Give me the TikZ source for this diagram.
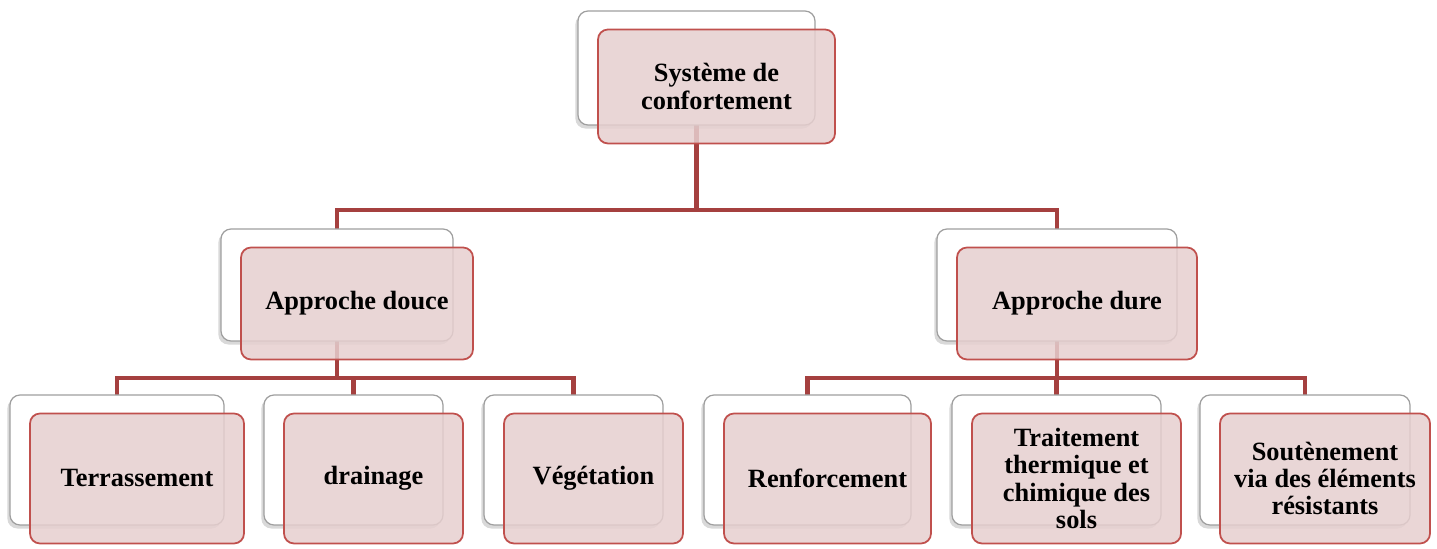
\documentclass[tikz,border=0pt]{standalone}
\usepackage{fontspec}
\setmainfont{Liberation Serif}
\usepackage{xcolor}
\usepackage{tikz}
\usetikzlibrary{shadows}

\definecolor{lien}{RGB}{165,64,63}
\definecolor{bord}{RGB}{192,80,77}
\definecolor{rose}{RGB}{230,207,207}

\begin{document}
\begin{tikzpicture}[
    fond/.style={rectangle, rounded corners=0.2cm, draw=gray!75, line width=0.7pt, fill=white,
        drop shadow={shadow xshift=-1.5pt, shadow yshift=-2pt, opacity=0.3}},
    boite/.style={rectangle, rounded corners=0.2cm, draw=bord, line width=1pt, fill=rose,
        fill opacity=0.85, text opacity=1, align=center,
        font=\fontsize{15}{15.6}\selectfont\bfseries},
    lien/.style={draw=lien, line width=2.8pt}
]
\useasboundingbox (0,0) rectangle (28.74,-10.98);

% Liaisons
\coordinate (racinebas) at (13.93,-2.50);
\draw[lien] (racinebas) -- ++(0,-1.70) -| (6.74,-4.58);
\draw[lien] (racinebas) -- ++(0,-1.70) -| (21.14,-4.58);
\draw[lien] (6.74,-6.82) -- ++(0,-0.74) -| (2.34,-7.90);
\draw[lien] (6.74,-6.82) -- ++(0,-0.74) -| (7.07,-7.90);
\draw[lien] (6.74,-6.82) -- ++(0,-0.74) -| (11.47,-7.90);
\draw[lien] (21.14,-6.82) -- ++(0,-0.74) -| (16.15,-7.90);
\draw[lien] (21.14,-6.82) -- ++(0,-0.74) -| (21.13,-7.90);
\draw[lien] (21.14,-6.82) -- ++(0,-0.74) -| (26.10,-7.90);

% Niveau 0
\node[fond, minimum width=4.74cm, minimum height=2.28cm] (racinefond) at (13.93,-1.36) {};
\node[boite, minimum width=4.74cm, minimum height=2.28cm] (racine) at ([shift={(0.4,-0.37)}]racinefond.center) {Système de\\confortement};

% Niveau 1
\node[fond, minimum width=4.64cm, minimum height=2.24cm] (doucefond) at (6.74,-5.70) {};
\node[boite, minimum width=4.64cm, minimum height=2.24cm] (douce) at ([shift={(0.4,-0.37)}]doucefond.center) {Approche douce};
\node[fond, minimum width=4.8cm, minimum height=2.24cm] (durefond) at (21.14,-5.70) {};
\node[boite, minimum width=4.8cm, minimum height=2.24cm] (dure) at ([shift={(0.4,-0.37)}]durefond.center) {Approche dure};

% Niveau 2 - approche douce
\node[fond, minimum width=4.28cm, minimum height=2.6cm] (terrfond) at (2.34,-9.20) {};
\node[boite, minimum width=4.28cm, minimum height=2.6cm] (terr) at ([shift={(0.4,-0.37)}]terrfond.center) {Terrassement};
\node[fond, minimum width=3.58cm, minimum height=2.6cm] (drainfond) at (7.07,-9.20) {};
\node[boite, minimum width=3.58cm, minimum height=2.6cm] (drain) at ([shift={(0.4,-0.37)}]drainfond.center) {drainage};
\node[fond, minimum width=3.58cm, minimum height=2.6cm] (vegefond) at (11.47,-9.20) {};
\node[boite, minimum width=3.58cm, minimum height=2.6cm] (vege) at ([shift={(0.4,-0.37)}]vegefond.center) {Végétation};

% Niveau 2 - approche dure
\node[fond, minimum width=4.14cm, minimum height=2.6cm] (renffond) at (16.15,-9.20) {};
\node[boite, minimum width=4.14cm, minimum height=2.6cm] (renf) at ([shift={(0.4,-0.37)}]renffond.center) {Renforcement};
\node[fond, minimum width=4.18cm, minimum height=2.6cm] (traitfond) at (21.13,-9.20) {};
\node[boite, minimum width=4.18cm, minimum height=2.6cm] (trait) at ([shift={(0.4,-0.37)}]traitfond.center) {Traitement\\thermique et\\chimique des\\sols};
\node[fond, minimum width=4.2cm, minimum height=2.6cm] (soutfond) at (26.10,-9.20) {};
\node[boite, minimum width=4.2cm, minimum height=2.6cm] (sout) at ([shift={(0.4,-0.37)}]soutfond.center) {Soutènement\\via des éléments\\résistants};

\end{tikzpicture}
\end{document}
